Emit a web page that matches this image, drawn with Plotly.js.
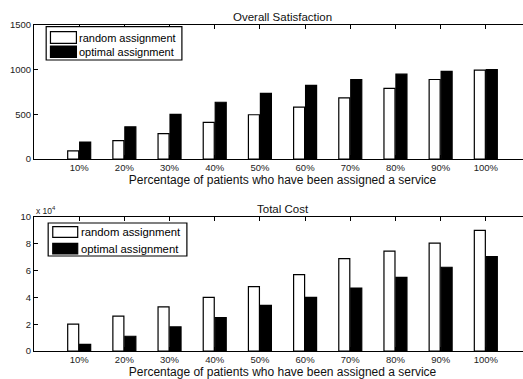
<!DOCTYPE html>
<html>
<head>
<meta charset="utf-8">
<script src="https://cdn.plot.ly/plotly-3.0.1.min.js"></script>
<style>
html,body{margin:0;padding:0;overflow:hidden;background:#fff;width:523px;height:379px;}
#chart{width:545px;height:379px;}
</style>
</head>
<body>
<div id="chart"></div>
<script>
// Categories (x positions 1..10)
const categories = [1,2,3,4,5,6,7,8,9,10];
const tickLabels = ["10%","20%","30%","40%","50%","60%","70%","80%","90%","100%"];

// Overall Satisfaction
const satRandom  = [90, 205, 285, 410, 495, 580, 685, 790, 890, 995];
const satOptimal = [190, 360, 500, 635, 735, 825, 890, 950, 980, 1000];

// Total Cost (x 10^4)
const costRandom  = [2.0, 2.6, 3.3, 4.0, 4.8, 5.7, 6.9, 7.45, 8.05, 9.0];
const costOptimal = [0.5, 1.1, 1.8, 2.5, 3.4, 4.0, 4.7, 5.5, 6.25, 7.05];

const satTicks = [0, 500, 1000, 1500];
const costTicks = [0, 2, 4, 6, 8, 10];

const seriesNames = ["random assignment", "optimal assignment"];
const seriesFills = ["#fff", "#000"];

const FONT = "Liberation Sans, Arial, Helvetica, sans-serif";

// page geometry
const W = 545, H = 379;
const M = {l: 33.5, r: 13.5, t: 25, b: 28};
const PW = W - M.l - M.r, PH = H - M.t - M.b;
const px2x = p => (p - M.l) / PW;
const px2y = p => (H - M.b - p) / PH;

function barTrace(y, i, xa, ya) {
  return {
    type: "bar", x: categories, y: y, name: seriesNames[i],
    xaxis: xa, yaxis: ya, showlegend: false,
    marker: {color: seriesFills[i], line: {color: "#000", width: 1.2}},
    hoverinfo: "skip"
  };
}

const data = [
  barTrace(satRandom, 0, "x", "y"),
  barTrace(satOptimal, 1, "x", "y"),
  barTrace(costRandom, 0, "x2", "y2"),
  barTrace(costOptimal, 1, "x2", "y2")
];

const xTitle = "Percentage of patients who have been assigned a service";

function xAxis(anchor) {
  return {
    anchor: anchor, domain: [0, 1], range: [0, 11],
    tickmode: "array", tickvals: categories, ticktext: tickLabels,
    ticks: "inside", ticklen: 4, tickcolor: "#000", tickwidth: 1,
    showline: true, linecolor: "#000", linewidth: 1, mirror: "ticks",
    showgrid: false, zeroline: false, fixedrange: true,
    tickfont: {family: FONT, size: 9.5, color: "#222"},
    title: {text: xTitle, font: {family: FONT, size: 12, color: "#111"}, standoff: 2},
    automargin: false
  };
}
function yAxis(anchor, domain, range, ticks) {
  return {
    anchor: anchor, domain: domain, range: range,
    tickmode: "array", tickvals: ticks,
    ticks: "inside", ticklen: 4, tickcolor: "#000", tickwidth: 1,
    showline: true, linecolor: "#000", linewidth: 1, mirror: "ticks",
    showgrid: false, zeroline: false, fixedrange: true,
    tickfont: {family: FONT, size: 9.5, color: "#222"},
    automargin: false
  };
}

// Legend boxes (drawn as frame + swatches + text), in page pixels
const legends = [
  {box: [45.7, 26.7, 181.7, 60], sw: [50, 76], rows: [[31.7, 43.3], [46, 57.3]], tx: 77, fs: 11},
  {box: [47.7, 223, 186.7, 256], sw: [52.3, 77.3], rows: [[226.7, 237.3], [243.3, 254]], tx: 79, fs: 11.3}
];

const shapes = [];
const annotations = [
  {text: "Overall Satisfaction", xref: "paper", yref: "paper", x: 0.5, y: 1,
   xanchor: "center", yanchor: "bottom", showarrow: false,
   font: {family: FONT, size: 11.5, color: "#111"}},
  {text: "Total Cost", xref: "paper", yref: "paper", x: 0.5, y: 0.411,
   xanchor: "center", yanchor: "bottom", showarrow: false,
   font: {family: FONT, size: 11.5, color: "#111"}},
  {text: "x 10<sup>4</sup>", xref: "paper", yref: "paper", x: 0, y: 0.411,
   xanchor: "left", yanchor: "bottom", yshift: -1, showarrow: false,
   font: {family: FONT, size: 8.5, color: "#222"}}
];

legends.forEach(L => {
  shapes.push({type: "rect", xref: "paper", yref: "paper", layer: "above",
    x0: px2x(L.box[0]), x1: px2x(L.box[2]), y0: px2y(L.box[3]), y1: px2y(L.box[1]),
    fillcolor: "#fff", line: {color: "#000", width: 1.2}});
  L.rows.forEach((r, i) => {
    shapes.push({type: "rect", xref: "paper", yref: "paper", layer: "above",
      x0: px2x(L.sw[0]), x1: px2x(L.sw[1]), y0: px2y(r[1]), y1: px2y(r[0]),
      fillcolor: seriesFills[i], line: {color: "#000", width: 1.2}});
    annotations.push({text: seriesNames[i], xref: "paper", yref: "paper",
      x: px2x(L.tx), y: px2y((r[0] + r[1]) / 2), xanchor: "left", yanchor: "middle",
      showarrow: false, font: {family: FONT, size: L.fs, color: "#000"}});
  });
});

const layout = {
  width: W, height: H,
  margin: M,
  paper_bgcolor: "#fff", plot_bgcolor: "#fff",
  barmode: "group", bargap: 0.47, bargroupgap: 0.08,
  showlegend: false,
  xaxis: xAxis("y"),
  yaxis: yAxis("x", [0.589, 1], [0, 1500], satTicks),
  xaxis2: xAxis("y2"),
  yaxis2: yAxis("x2", [0, 0.411], [0, 10], costTicks),
  shapes: shapes,
  annotations: annotations
};

Plotly.newPlot("chart", data, layout, {displayModeBar: false, staticPlot: true});
</script>
</body>
</html>
